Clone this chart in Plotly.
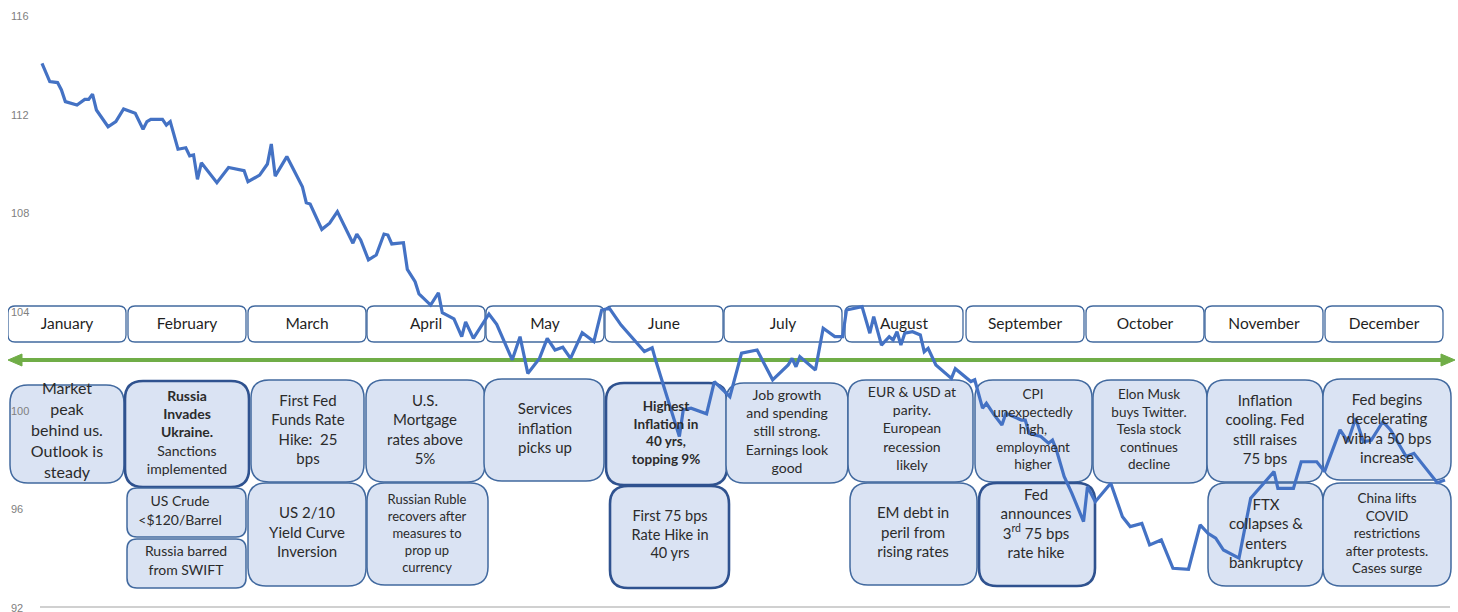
import pandas as pd
import plotly.graph_objects as go

# ---------------- data ----------------
# day of year 2022 and index level
day = [3,5,7,8,9,12,14,15,16,17,
       20,22,24,27,29,30,31,34,35,36,
       38,40,41,42,43,44,48,51,55,56,
       59,61,62,63,66,68,70,71,72,75,
       77,79,83,84,85,87,89,91,92,93,
       96,97,99,100,103,105,106,109,111,112,
       114,118,120,124,126,128,131,133,135,137,
       139,142,145,147,149,152,155,158,160,161,
       167,168,170,174,176,180,183,187,189,191,
       195,196,197,198,202,204,207,209,210,214,
       216,217,219,221,222,223,224,225,227,229,
       230,231,233,237,238,242,243,245,246,248,
       250,251,255,256,257,260,262,263,264,266,
       268,271,272,274,278,281,283,286,288,291,
       294,298,301,303,305,307,311,314,320,321,
       325,327,331,333,337,339,341,343,345,348,
       350,354,356,359,362,364]
level = [114.08,113.34,113.30,113.00,112.53,112.39,112.62,112.62,112.83,112.19,
         111.51,111.72,112.23,112.06,111.41,111.72,111.81,111.81,111.58,111.72,
         110.60,110.66,110.33,110.37,109.38,110.05,109.24,109.86,109.73,109.28,
         109.55,110.00,110.81,109.51,110.30,109.69,109.08,108.43,108.38,107.35,
         107.60,108.07,106.79,107.16,106.92,106.11,106.31,107.16,107.12,106.76,
         106.81,105.73,105.23,104.73,104.28,104.78,103.97,103.72,103.00,103.60,
         102.93,103.92,103.50,102.06,103.00,101.51,102.12,102.93,102.46,102.57,
         102.12,103.16,102.80,104.08,104.15,103.47,102.91,102.40,102.55,101.99,
         98.95,100.03,100.10,99.87,101.18,100.57,102.33,102.46,101.85,101.25,
         101.85,102.12,101.78,102.19,101.65,103.34,103.00,103.00,104.08,104.22,
         103.14,103.81,102.66,103.00,102.87,103.20,102.66,103.14,103.20,103.07,
         102.39,102.53,101.85,101.31,101.70,101.18,101.25,100.10,100.30,99.83,
         99.42,99.89,99.62,99.62,99.08,98.95,98.68,98.81,98.41,97.33,
         96.65,95.50,96.92,96.31,97.06,95.70,95.30,95.43,94.56,94.76,
         93.61,93.57,95.37,95.03,94.83,94.35,94.02,96.45,97.53,96.85,
         96.85,97.93,97.93,97.53,99.22,98.74,99.69,98.74,98.80,99.55,
         99.22,98.14,98.27,97.67,97.08,97.19]

y_ticks = [92, 96, 100, 104, 108, 112, 116]

months = ["January", "February", "March", "April", "May", "June", "July",
          "August", "September", "October", "November", "December"]

events = [
    "Market<br>peak<br>behind us.<br>Outlook is<br>steady",
    "<b>Russia<br>Invades<br>Ukraine.</b><br>Sanctions<br>implemented",
    "US Crude<br><$120/Barrel",
    "Russia barred<br>from SWIFT",
    "First Fed<br>Funds Rate<br>Hike:  25<br>bps",
    "U.S.<br>Mortgage<br>rates above<br>5%",
    "US 2/10<br>Yield Curve<br>Inversion",
    "Russian Ruble<br>recovers after<br>measures to<br>prop up<br>currency",
    "Services<br>inflation<br>picks up",
    "<b>Highest<br>Inflation in<br>40 yrs,<br>topping 9%</b>",
    "First 75 bps<br>Rate Hike in<br>40 yrs",
    "Job growth<br>and spending<br>still strong.<br>Earnings look<br>good",
    "EUR & USD at<br>parity.<br>European<br>recession<br>likely",
    "EM debt in<br>peril from<br>rising rates",
    "CPI<br>unexpectedly<br>high,<br>employment<br>higher",
    "Elon Musk<br>buys Twitter.<br>Tesla stock<br>continues<br>decline",
    "Fed<br>announces<br>3<sup>rd</sup> 75 bps<br>rate hike",
    "Inflation<br>cooling. Fed<br>still raises<br>75 bps",
    "Fed begins<br>decelerating<br>with a 50 bps<br>increase",
    "FTX<br>collapses &<br>enters<br>bankruptcy",
    "China lifts<br>COVID<br>restrictions<br>after protests.<br>Cases surge",
]

# ---------------- layout geometry (pixel frame of the overlay axes) ----------------
W, H = 1458, 612
PL, PR, PT, PB = 8, 1456, 16, 608          # plot area in pixels

# event boxes: x0, y0, x1, y1, corner radius, thick border, text cx, text cy, font size
event_boxes = [
    (10, 385, 124, 483, 18, False, 67, 432, 16),
    (125, 381, 249, 487, 18, True, 187, 434, 14),
    (127, 488, 246, 537, 10, False, 180, 512, 14),
    (127, 539, 246, 588, 10, False, 186, 562, 14),
    (251, 380, 364, 482, 18, False, 308, 431, 15),
    (366, 380, 485, 482, 18, False, 425, 431, 15),
    (248, 483, 366, 586, 18, False, 307, 534, 15),
    (367, 483, 488, 585, 18, False, 427, 535, 13),
    (484, 379, 604, 481, 18, False, 545, 430, 15),
    (606, 383, 727, 485, 18, True, 666, 434, 13.5),
    (610, 486, 729, 588, 18, True, 670, 536, 14.5),
    (726, 383, 848, 483, 18, False, 787, 433, 14),
    (848, 380, 973, 482, 18, False, 912, 430, 14),
    (850, 483, 977, 585, 18, False, 913, 534, 15),
    (975, 380, 1092, 482, 18, False, 1033, 431, 13.5),
    (1093, 380, 1207, 483, 18, False, 1149, 431, 13.5),
    (979, 483, 1095, 586, 18, True, 1036, 525, 15),
    (1207, 380, 1323, 482, 18, False, 1265, 431, 15),
    (1323, 379, 1451, 480, 18, False, 1387, 430, 15),
    (1208, 483, 1323, 586, 18, False, 1266, 535, 15),
    (1323, 483, 1451, 586, 18, False, 1387, 535, 13.5),
]
month_left = [8, 128, 248, 367, 486, 605, 724, 845, 966, 1086, 1205, 1325]
month_w = 118
month_top, month_bot = 306, 342


def rrect(x0, y0, x1, y1, r):
    return (f"M {x0+r},{y0} L {x1-r},{y0} Q {x1},{y0} {x1},{y0+r} "
            f"L {x1},{y1-r} Q {x1},{y1} {x1-r},{y1} L {x0+r},{y1} "
            f"Q {x0},{y1} {x0},{y1-r} L {x0},{y0+r} Q {x0},{y0} {x0+r},{y0} Z")


shapes = []
for i, _ in enumerate(months):
    x0 = month_left[i]
    shapes.append(dict(type="path", xref="x2", yref="y2", layer="below",
                       path=rrect(x0, month_top, x0 + month_w, month_bot, 7),
                       fillcolor="white", line=dict(color="#41699f", width=1.3)))

for (x0, y0, x1, y1, r, thick, cx, cy, fs) in event_boxes:
    shapes.append(dict(type="path", xref="x2", yref="y2", layer="below",
                       path=rrect(x0, y0, x1, y1, r),
                       fillcolor="#dae3f3",
                       line=dict(color="#2f528f" if thick else "#41699f",
                                 width=2.6 if thick else 1.5)))

# green double arrow
GREEN = "#70ad47"
shapes.append(dict(type="line", xref="x2", yref="y2", layer="below",
                   x0=20, x1=1443, y0=360, y1=360, line=dict(color=GREEN, width=4)))
shapes.append(dict(type="path", xref="x2", yref="y2", layer="below",
                   path="M 8,360 L 22,354 L 22,366 Z", fillcolor=GREEN,
                   line=dict(color=GREEN, width=1)))
shapes.append(dict(type="path", xref="x2", yref="y2", layer="below",
                   path="M 1455,360 L 1441,354 L 1441,366 Z", fillcolor=GREEN,
                   line=dict(color=GREEN, width=1)))
# bottom axis rule
shapes.append(dict(type="line", xref="x2", yref="y2", layer="below",
                   x0=40, x1=1450, y0=607, y1=607, line=dict(color="#d0d0d0", width=2)))

fig = go.Figure()

# month labels
fig.add_trace(go.Scatter(
    x=[month_left[i] + month_w / 2 for i in range(len(months))],
    y=[(month_top + month_bot) / 2 + 1] * len(months),
    text=months, mode="text", xaxis="x2", yaxis="y2",
    textfont=dict(family="Lato, Carlito, sans-serif", size=15.5, color="#1f1f1f"),
    hoverinfo="skip", showlegend=False))

# event texts
fig.add_trace(go.Scatter(
    x=[b[6] for b in event_boxes], y=[b[7] for b in event_boxes],
    text=events, mode="text", xaxis="x2", yaxis="y2",
    textfont=dict(family="Lato, Carlito, sans-serif",
                  size=[b[8] for b in event_boxes], color="#2b2b2b"),
    hoverinfo="skip", showlegend=False))

# the index line
dates = pd.Timestamp("2021-12-31") + pd.to_timedelta(day, unit="D")
fig.add_trace(go.Scatter(
    x=dates, y=level, mode="lines",
    line=dict(color="#4472c4", width=3.2), showlegend=False))

# x range so that day 3 sits at pixel 42 and day 364 near pixel 1446
px_per_day = 1403 / 361
d_left = 3 - (42 - PL) / px_per_day
d_right = 3 + (PR - 42) / px_per_day
base = pd.Timestamp("2021-12-31")
x_range = [base + pd.Timedelta(days=d_left), base + pd.Timedelta(days=d_right)]

fig.update_layout(
    width=W, height=H,
    margin=dict(l=PL, r=W - PR, t=PT, b=H - PB, pad=0, autoexpand=False),
    paper_bgcolor="white", plot_bgcolor="white",
    shapes=shapes,
    xaxis=dict(type="date", range=x_range, visible=False, automargin=False),
    yaxis=dict(range=[92, 116], tickvals=y_ticks, showgrid=False, zeroline=False,
               showline=False, ticks="", ticklabelposition="inside",
               ticklabeloverflow="allow", automargin=False,
               tickfont=dict(family="Liberation Sans, Arial", size=11, color="#808080")),
    xaxis2=dict(range=[PL, PR], overlaying="x", visible=False, automargin=False),
    yaxis2=dict(range=[PB, PT], overlaying="y", visible=False, automargin=False),
)

fig.write_html("out.html")
